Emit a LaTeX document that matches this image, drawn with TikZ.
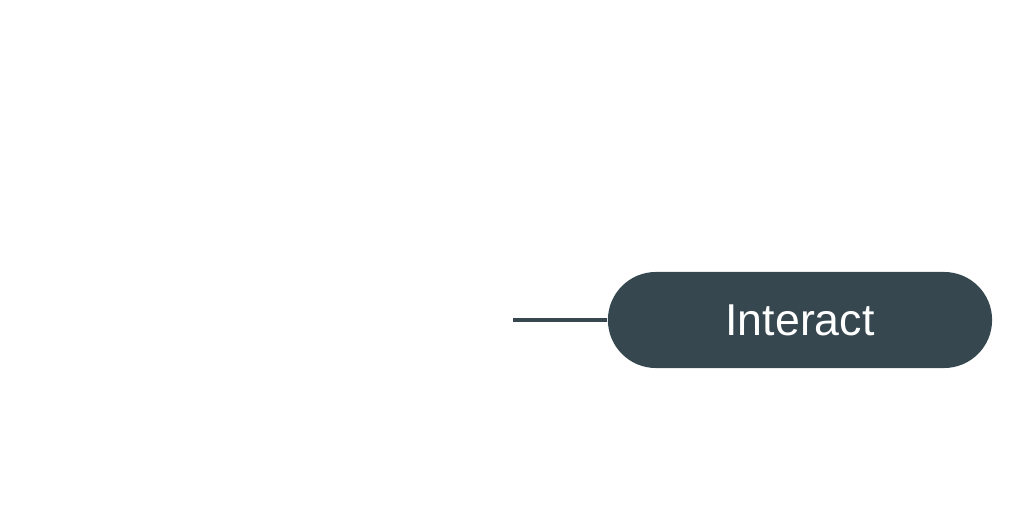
\documentclass[tikz,border=0pt]{standalone}
\usepackage{fontspec}
\setmainfont{Liberation Sans}
\definecolor{slate}{HTML}{37474F}
\begin{document}
\begin{tikzpicture}[x=0.01cm,y=0.01cm]
\useasboundingbox (0,0) rectangle (1024,512);
\coordinate (S) at (513,192);
\node[fill=slate,rounded corners=0.48cm,minimum width=3.84cm,minimum height=0.96cm,inner sep=0pt,text=white,font=\fontsize{12.7}{15}\selectfont] (I) at (800,192) {Interact};
\path[draw=slate,line width=1.1pt]
  (S) -- (I)
;
\end{tikzpicture}
\end{document}
